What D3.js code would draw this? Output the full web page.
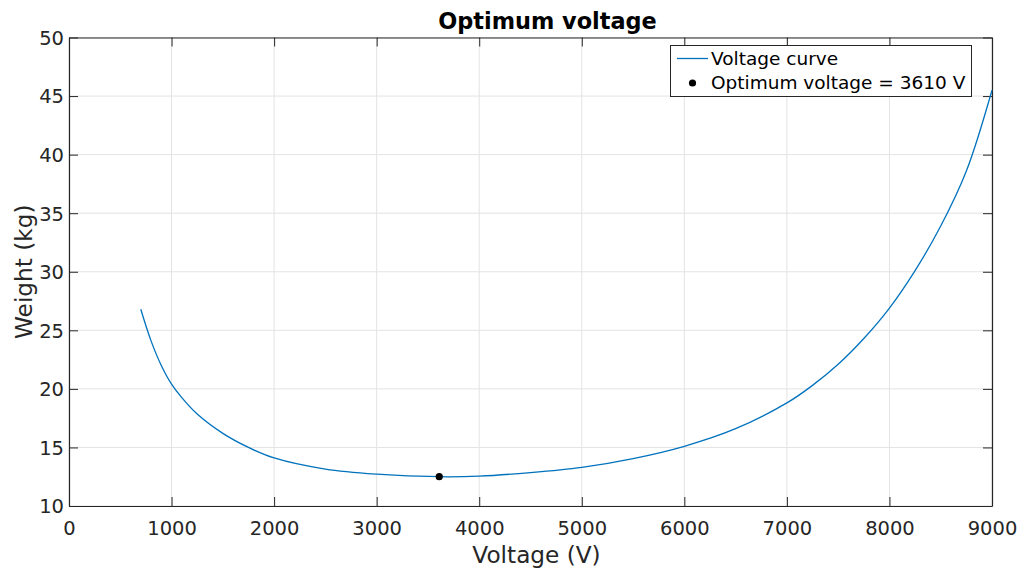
<!DOCTYPE html>
<html><head><meta charset="utf-8">
<script src="https://cdn.jsdelivr.net/npm/d3@7"></script>
<style>body{margin:0;background:#fff}svg{display:block}text{font-family:"DejaVu Sans",sans-serif}</style>
</head><body><svg id="c" width="1025" height="572"></svg>
<script>
const voltage = [700,800,900,1000,1100,1250,1500,1750,2000,2500,3000,3610,4000,4500,5000,5500,6000,6500,7000,7250,7500,7750,8000,8250,8500,8750,9000];
const weight  = [26.8,24.1,22.0,20.4,19.25,17.85,16.2,15.0,14.1,13.15,12.72,12.5,12.55,12.85,13.3,14.05,15.1,16.6,18.8,20.3,22.1,24.3,26.9,30.1,33.9,38.6,45.5];
const optimum = {v:3610, w:12.5};
const xTicks = [0,1000,2000,3000,4000,5000,6000,7000,8000,9000];
const yTicks = [10,15,20,25,30,35,40,45,50];
const title = "Optimum voltage", xLabel = "Voltage (V)", yLabel = "Weight (kg)";
const legendLabels = ["Voltage curve","Optimum voltage = 3610 V"];

const L=69,R=992,T=37.5,B=506;
const svg=d3.select("#c");
const x=d3.scaleLinear().domain([0,9000]).range([L,R]);
const y=d3.scaleLinear().domain([10,50]).range([B,T]);
const g=svg.append("g");
// grid
g.selectAll(".gx").data(xTicks).join("line").attr("x1",d=>x(d)).attr("x2",d=>x(d)).attr("y1",T).attr("y2",B).attr("stroke","#e3e3e3").attr("stroke-width",1);
g.selectAll(".gy").data(yTicks).join("line").attr("y1",d=>y(d)).attr("y2",d=>y(d)).attr("x1",L).attr("x2",R).attr("stroke","#e3e3e3").attr("stroke-width",1);
// axes
const tk=9;
const ax=g.append("g").attr("transform",`translate(0,${B})`).call(d3.axisBottom(x).tickValues(xTicks).tickSizeInner(-tk).tickSizeOuter(0).tickPadding(15).tickFormat(d3.format("d")));
const axT=g.append("g").attr("transform",`translate(0,${T})`).call(d3.axisTop(x).tickValues(xTicks).tickSizeInner(-tk).tickSizeOuter(0).tickFormat(""));
const ay=g.append("g").attr("transform",`translate(${L},0)`).call(d3.axisLeft(y).tickValues(yTicks).tickSizeInner(-tk).tickSizeOuter(0).tickPadding(5));
const ayR=g.append("g").attr("transform",`translate(${R},0)`).call(d3.axisRight(y).tickValues(yTicks).tickSizeInner(-tk).tickSizeOuter(0).tickFormat(""));
[ax,axT,ay,ayR].forEach(a=>{a.select(".domain").attr("stroke","#262626").attr("stroke-width",1.2);a.selectAll(".tick line").attr("stroke","#262626");a.selectAll("text").attr("fill","#262626").style("font-size","19.5px").style("font-family","DejaVu Sans");});
ax.selectAll("text").attr("dy","0.71em");
ay.selectAll("text").attr("dy","0.35em");
// curve
const line=d3.line().x((d,i)=>x(voltage[i])).y((d,i)=>y(weight[i])).curve(d3.curveCatmullRom.alpha(0.5));
g.append("path").datum(weight).attr("d",line).attr("fill","none").attr("stroke","#0072BD").attr("stroke-width",1.3);
g.append("circle").attr("cx",x(optimum.v)).attr("cy",y(optimum.w)).attr("r",3.6).attr("fill","#000");
// title & labels
svg.append("text").attr("x",(L+R)/2+17).attr("y",29).attr("text-anchor","middle").style("font-size","22.4px").style("font-weight","bold").attr("fill","#000").text(title);
svg.append("text").attr("x",(L+R)/2+6).attr("y",563).attr("text-anchor","middle").style("font-size","23.2px").attr("fill","#262626").text(xLabel);
svg.append("text").attr("transform",`translate(32,${(T+B)/2}) rotate(-90)`).attr("text-anchor","middle").style("font-size","23.2px").attr("fill","#262626").text(yLabel);
// legend
const lg=svg.append("g");
lg.append("rect").attr("x",670.5).attr("y",45.5).attr("width",301).attr("height",51).attr("fill","#fff").attr("stroke","#262626").attr("stroke-width",1);
lg.append("line").attr("x1",677).attr("x2",708).attr("y1",58.5).attr("y2",58.5).attr("stroke","#0072BD").attr("stroke-width",1.3);
lg.append("circle").attr("cx",692.5).attr("cy",83).attr("r",3.6).attr("fill","#000");
lg.selectAll("text.lt").data(legendLabels).join("text").attr("x",711).attr("y",(d,i)=>58.5+i*24.5).attr("dy","0.35em").style("font-size","18.5px").attr("fill","#000").text(d=>d);
</script></body></html>
